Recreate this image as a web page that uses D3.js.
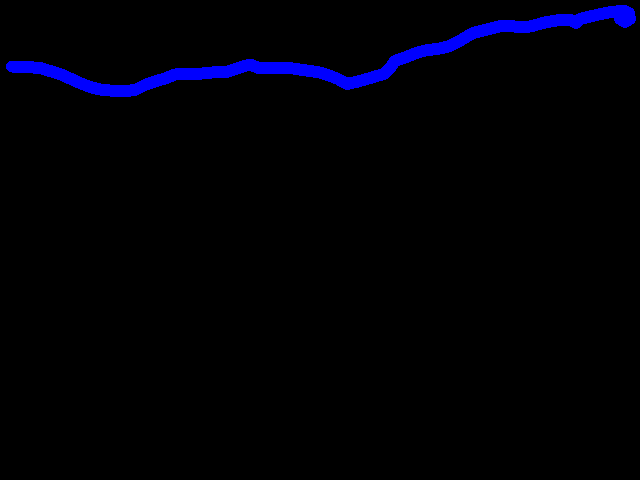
<!DOCTYPE html>
<html>
<head>
<meta charset="utf-8">
<script src="https://cdn.jsdelivr.net/npm/d3@7"></script>
<style>
  html, body { margin: 0; padding: 0; background: #000; }
  svg { display: block; }
</style>
</head>
<body>
<svg id="chart" width="640" height="480"></svg>
<script>
// Track positions
const xs = [12, 20, 40, 50, 60, 70, 80, 90, 100, 110, 122, 135, 145, 155, 165, 175, 188, 202, 212, 227, 240, 250, 260, 277, 293, 310, 320, 328, 338, 347, 358, 372, 385, 390, 395, 405, 415, 425, 440, 450, 463, 473, 487, 503, 520, 530, 545, 560, 570, 576, 580, 592, 608, 616, 624, 629, 630, 625, 620, 621];
const ys = [66.5, 66.5, 68, 71, 74, 78.5, 83, 87, 89.5, 90.5, 91.5, 90, 85, 81.5, 78.5, 74.5, 73.5, 73.5, 72.5, 72, 67.5, 64.5, 68.5, 67.5, 68.5, 71, 72.5, 75, 79, 84, 81.5, 77.5, 73.5, 68, 61, 57.5, 53.5, 50.5, 48.5, 46, 39, 33, 29.5, 25.5, 27, 26.5, 22.5, 20, 19.5, 23, 19, 16, 12.5, 11.5, 10.5, 13, 19, 22, 19, 14];

const width = 640, height = 480;
const x = d3.scaleLinear().domain([0, 640]).range([0, width]);
const y = d3.scaleLinear().domain([0, 480]).range([0, height]);

const svg = d3.select("#chart");
svg.append("rect").attr("width", width).attr("height", height).attr("fill", "#000");

const pts = xs.map((v, i) => [v, ys[i]]);
const line = d3.line().x(d => x(d[0])).y(d => y(d[1])).curve(d3.curveLinear);

svg.append("path")
  .datum(pts)
  .attr("d", line)
  .attr("fill", "none")
  .attr("stroke", "#0000ff")
  .attr("stroke-width", 12)
  .attr("stroke-linecap", "round")
  .attr("stroke-linejoin", "round")
  .attr("shape-rendering", "crispEdges");
</script>
</body>
</html>
